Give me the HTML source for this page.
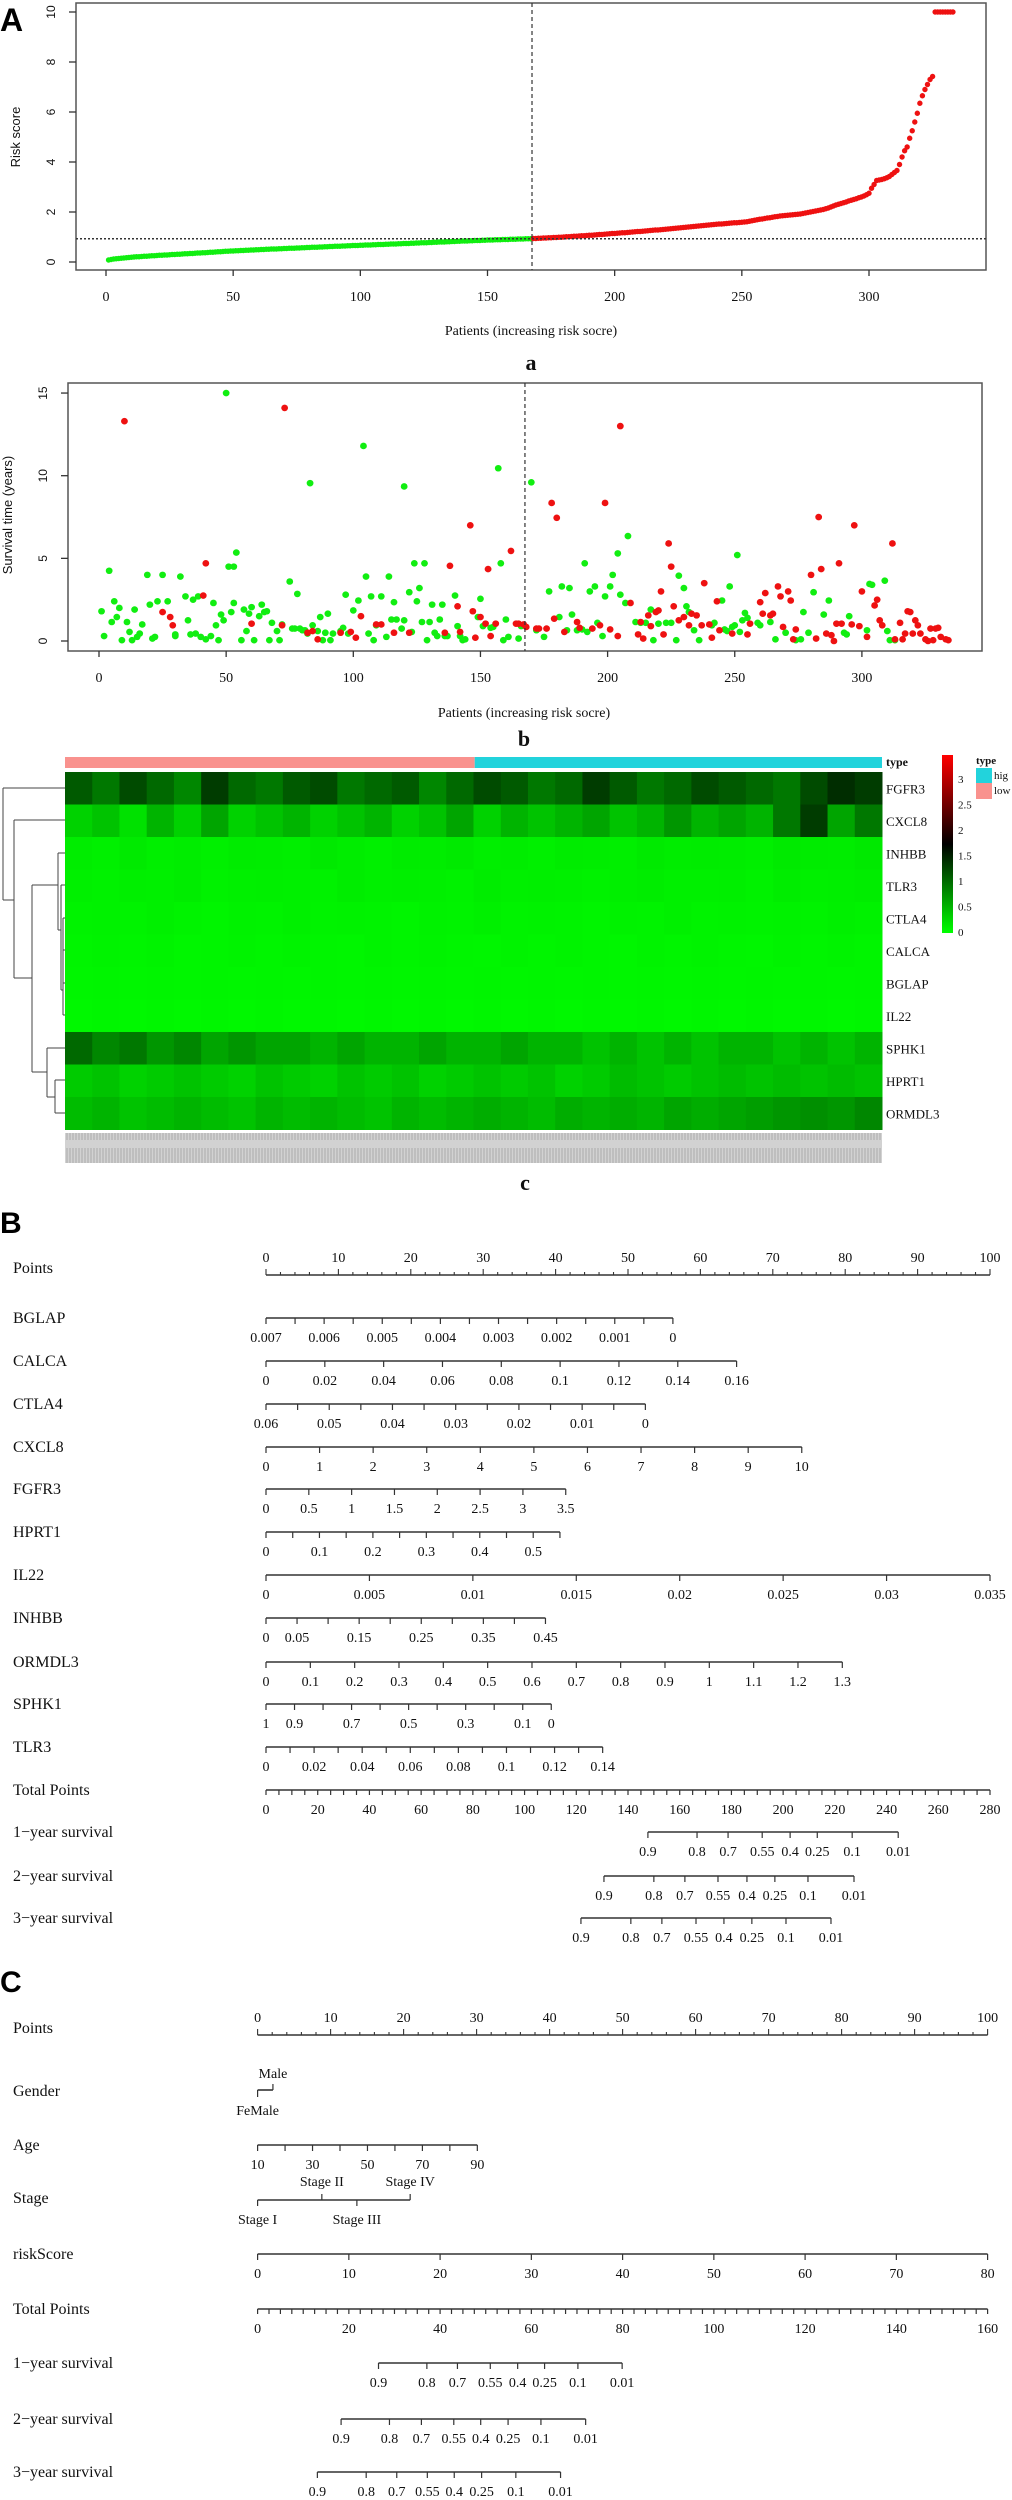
<!DOCTYPE html>
<html><head><meta charset="utf-8"><style>
html,body{margin:0;padding:0;background:#fff}
svg{display:block}
.s{font-family:"Liberation Serif",serif}
.ss{font-family:"Liberation Sans",sans-serif}
</style></head><body>
<svg id="fig" width="1012" height="2500" viewBox="0 0 1012 2500" xmlns="http://www.w3.org/2000/svg"></svg>
<script>
// ---------------- Panel a data: risk scores (sorted) ----------------
const riskScores = [
0.08,0.10,0.12,0.13,0.14,0.15,0.16,0.17,0.18,0.19,
0.20,0.21,0.21,0.22,0.23,0.23,0.24,0.25,0.25,0.26,
0.27,0.27,0.28,0.28,0.29,0.30,0.30,0.31,0.31,0.32,
0.33,0.33,0.34,0.34,0.35,0.36,0.36,0.37,0.37,0.38,
0.39,0.39,0.40,0.41,0.41,0.42,0.43,0.43,0.44,0.44,
0.45,0.45,0.46,0.46,0.47,0.47,0.48,0.48,0.49,0.49,
0.50,0.50,0.51,0.51,0.52,0.52,0.52,0.53,0.53,0.54,
0.54,0.55,0.55,0.55,0.56,0.56,0.57,0.57,0.58,0.58,
0.59,0.59,0.59,0.60,0.60,0.61,0.61,0.62,0.62,0.63,
0.63,0.63,0.64,0.64,0.65,0.65,0.66,0.66,0.66,0.67,
0.67,0.68,0.68,0.68,0.69,0.69,0.70,0.70,0.70,0.71,
0.71,0.72,0.72,0.72,0.73,0.73,0.74,0.74,0.74,0.75,
0.75,0.76,0.76,0.77,0.77,0.77,0.78,0.78,0.79,0.79,
0.80,0.80,0.80,0.81,0.81,0.82,0.82,0.83,0.83,0.84,
0.84,0.84,0.85,0.85,0.86,0.86,0.86,0.87,0.87,0.88,
0.88,0.88,0.89,0.89,0.89,0.90,0.90,0.90,0.91,0.91,
0.91,0.92,0.92,0.92,0.93,0.93,0.93,
0.94,0.94,0.95,
0.95,0.96,0.96,0.97,0.97,0.98,0.98,0.99,0.99,1.00,
1.01,1.01,1.02,1.03,1.03,1.04,1.05,1.05,1.06,1.07,
1.07,1.08,1.09,1.10,1.10,1.11,1.12,1.13,1.14,1.14,
1.15,1.16,1.17,1.17,1.18,1.19,1.20,1.21,1.22,1.22,
1.23,1.24,1.25,1.26,1.27,1.28,1.28,1.29,1.30,1.31,
1.32,1.33,1.34,1.35,1.36,1.37,1.38,1.39,1.40,1.41,
1.42,1.43,1.44,1.45,1.46,1.47,1.48,1.49,1.50,1.51,
1.52,1.52,1.53,1.54,1.55,1.56,1.57,1.57,1.58,1.59,
1.60,1.61,1.63,1.65,1.67,1.69,1.71,1.72,1.74,1.76,
1.77,1.79,1.81,1.82,1.84,1.85,1.86,1.87,1.88,1.89,
1.90,1.91,1.92,1.94,1.96,1.98,2.00,2.02,2.04,2.06,
2.08,2.10,2.13,2.16,2.20,2.24,2.28,2.31,2.34,2.37,
2.40,2.44,2.47,2.50,2.53,2.57,2.60,2.64,2.69,2.75,
2.95,3.10,3.26,3.28,3.30,3.33,3.37,3.42,3.50,3.58,
3.66,3.90,4.20,4.45,4.60,4.95,5.25,5.60,5.95,6.35,
6.65,6.90,7.10,7.30,7.42,
10,10,10,10,10,10,10,10];
const riskCutoff = 0.93;
const splitIndex = 167.5;
const aXTicks = [0,50,100,150,200,250,300];
const aYTicks = [0,2,4,6,8,10];

// ---------------- Panel b data: survival ----------------
const aliveIdx = [1,2,4,5,6,7,8,9,11,12,13,14,15,16,17,19,20,21,22,23,25,27,30,30,32,34,35,36,37,38,39,40,42,44,45,46,47,48,49,50,51,52,53,53,54,56,57,58,59,60,61,63,64,65,66,67,68,70,71,72,75,76,77,78,79,80,81,82,83,84,86,87,88,89,90,91,92,95,96,97,98,100,102,104,105,106,107,108,109,111,113,114,115,116,117,119,120,120,122,123,124,125,126,127,128,129,130,131,132,133,134,135,136,137,140,141,142,143,144,149,150,151,154,155,157,158,159,160,161,165,166,
170,172,175,177,181,182,184,185,186,188,190,191,192,193,195,196,198,199,201,202,204,205,207,208,211,213,215,217,218,220,223,225,227,228,230,231,232,234,236,241,242,245,246,247,248,249,250,251,252,253,254,255,259,260,264,266,270,274,276,277,279,281,285,287,293,294,295,302,303,304,309,310,311,313];
const aliveTime = [1.8,0.3,4.25,1.15,2.4,1.45,2.0,0.05,1.15,0.55,0.05,1.9,0.25,0.45,1.0,4.0,2.2,0.15,0.25,2.4,4.0,2.4,0.4,0.3,3.9,2.7,1.25,0.4,2.5,0.45,2.7,0.25,0.1,0.3,2.3,0.95,0.05,1.6,1.25,15.0,4.5,1.75,4.5,2.3,5.35,0.05,1.9,0.6,1.65,2.05,0.05,1.5,2.2,1.75,1.8,0.05,1.1,0.6,0.05,1.0,3.6,0.75,0.75,2.85,0.75,0.65,0.65,0.45,9.55,0.95,0.6,1.45,0.05,0.5,1.65,0.05,0.45,0.6,0.8,2.8,0.45,1.85,2.45,11.8,3.9,0.45,2.7,0.05,0.95,2.7,0.25,3.9,1.3,2.35,1.3,0.75,1.25,9.35,2.95,0.55,4.7,2.4,3.2,1.15,4.7,0.05,1.15,2.2,0.5,0.3,1.3,2.2,0.3,0.3,2.75,0.9,0.3,0.05,0.1,1.45,2.55,0.9,0.8,0.85,10.45,4.7,0.05,1.3,0.25,0.15,0.9,
9.6,0.65,0.25,3.0,1.45,3.3,0.65,3.2,1.6,0.65,0.7,4.7,0.55,3.0,3.3,1.1,0.3,2.7,3.3,4.0,5.3,2.8,2.3,6.35,1.15,1.1,1.1,1.9,0.05,1.05,1.1,1.1,0.05,3.95,3.2,2.1,1.75,0.65,0.05,0.95,1.1,2.45,0.7,0.6,3.3,0.85,0.95,5.2,0.55,1.25,1.7,1.4,1.1,0.95,1.15,0.1,0.5,0.05,0.1,1.75,0.5,2.95,1.6,2.45,0.5,0.4,1.5,0.65,3.45,3.4,3.65,0.6,0.05,0.05];
const deadIdx = [10,25,28,29,41,42,60,72,73,82,84,86,95,99,101,103,109,111,116,122,136,138,141,142,146,147,148,150,152,153,154,156,162,164,165,167,168,172,173,176,178,179,180,183,188,189,194,197,199,201,204,205,209,212,213,214,216,217,219,220,221,222,224,225,226,228,230,232,233,235,237,238,240,241,243,244,249,255,256,260,261,262,264,265,267,268,269,271,272,273,274,280,282,283,284,286,288,289,290,291,292,296,297,299,300,302,305,306,307,308,312,313,315,316,317,318,319,320,321,322,323,325,326,327,328,329,330,331,333,334];
const deadTime = [13.3,1.75,1.45,0.95,2.75,4.7,1.05,0.95,14.1,0.5,0.6,0.1,0.5,0.55,0.2,1.5,1.0,1.0,0.5,0.5,0.5,4.55,2.1,0.55,7.0,1.8,0.2,1.45,1.05,4.35,0.3,1.05,5.45,1.05,1.05,1.0,0.85,0.75,0.75,0.75,8.35,1.35,7.45,0.55,1.15,0.8,0.75,0.95,8.35,0.7,0.3,13.0,2.3,0.4,1.15,0.15,1.55,0.9,1.75,1.85,3.0,0.4,5.9,4.5,2.1,1.25,1.45,0.95,1.65,1.55,0.95,3.5,1.0,0.2,2.4,0.65,0.45,0.4,1.05,2.35,1.65,2.9,1.55,1.65,3.3,2.7,0.85,3.0,2.45,0.1,0.7,4.0,0.15,7.5,4.35,0.45,0.35,0.0,1.05,4.7,1.05,1.0,7.0,0.9,3.0,0.25,2.15,2.5,1.25,0.95,5.9,0.1,1.1,0.1,0.45,1.8,1.75,0.45,1.25,0.95,0.45,0.1,0.0,0.75,0.05,0.75,0.8,0.25,0.1,0.05];
const bXTicks = [0,50,100,150,200,250,300];
const bYTicks = [0,5,10,15];

// ---------------- Panel c data: heatmap ----------------
const genes = ["FGFR3","CXCL8","INHBB","TLR3","CTLA4","CALCA","BGLAP","IL22","SPHK1","HPRT1","ORMDL3"];
const expFGFR3 = [1.1,0.9,1.2,1.0,0.8,1.3,1.0,0.9,1.1,1.2,0.9,1.0,1.1,0.8,1.0,1.2,1.1,0.9,1.0,1.3,1.1,0.9,1.0,1.2,1.1,1.0,0.9,1.2,1.4,1.3];
const expCXCL8 = [0.3,0.4,0.2,0.5,0.3,0.6,0.3,0.4,0.5,0.3,0.4,0.5,0.3,0.4,0.6,0.3,0.5,0.4,0.5,0.6,0.4,0.5,0.7,0.5,0.6,0.5,0.9,1.3,0.6,0.9];
const expINHBB = [0.12,0.10,0.14,0.11,0.12,0.10,0.13,0.12,0.11,0.15,0.12,0.10,0.13,0.12,0.14,0.11,0.12,0.10,0.13,0.12,0.11,0.14,0.12,0.13,0.12,0.11,0.14,0.13,0.12,0.15];
const expTLR3 = [0.10,0.09,0.11,0.10,0.12,0.09,0.10,0.11,0.10,0.09,0.12,0.10,0.11,0.10,0.09,0.12,0.10,0.11,0.10,0.09,0.11,0.12,0.10,0.10,0.11,0.09,0.12,0.10,0.11,0.12];
const expCTLA4 = [0.08,0.09,0.08,0.10,0.08,0.07,0.09,0.08,0.10,0.08,0.09,0.08,0.07,0.09,0.08,0.10,0.08,0.09,0.08,0.07,0.09,0.08,0.10,0.08,0.09,0.08,0.09,0.08,0.10,0.09];
const expCALCA = [0.07,0.08,0.07,0.08,0.06,0.07,0.08,0.07,0.08,0.07,0.06,0.08,0.07,0.08,0.07,0.06,0.08,0.07,0.08,0.07,0.06,0.08,0.07,0.08,0.07,0.06,0.08,0.07,0.08,0.07];
const expBGLAP = [0.06,0.07,0.06,0.07,0.06,0.07,0.06,0.07,0.06,0.07,0.06,0.07,0.06,0.07,0.06,0.07,0.06,0.07,0.06,0.07,0.06,0.07,0.06,0.07,0.06,0.07,0.06,0.07,0.06,0.07];
const expIL22 = [0.05,0.06,0.05,0.06,0.05,0.06,0.05,0.06,0.05,0.06,0.05,0.06,0.05,0.06,0.05,0.06,0.05,0.06,0.05,0.06,0.05,0.06,0.05,0.06,0.05,0.06,0.05,0.06,0.05,0.06];
const expSPHK1 = [1.0,0.8,0.9,0.7,0.8,0.6,0.7,0.6,0.6,0.5,0.6,0.5,0.5,0.6,0.5,0.5,0.6,0.5,0.5,0.4,0.5,0.4,0.5,0.4,0.5,0.5,0.4,0.5,0.4,0.5];
const expHPRT1 = [0.35,0.4,0.3,0.35,0.4,0.35,0.3,0.4,0.35,0.3,0.4,0.35,0.4,0.3,0.35,0.4,0.35,0.4,0.3,0.35,0.45,0.4,0.35,0.4,0.45,0.4,0.45,0.4,0.45,0.4];
const expORMDL3 = [0.45,0.5,0.4,0.45,0.5,0.45,0.4,0.5,0.45,0.5,0.45,0.4,0.5,0.45,0.5,0.55,0.5,0.45,0.55,0.5,0.55,0.5,0.6,0.55,0.6,0.65,0.7,0.75,0.7,0.8];
const typeGroups = ["low","high"];
const typeCounts = [167,166];
const colorTicks = [0,0.5,1,1.5,2,2.5,3];

// ---------------- Nomogram B data ----------------
const nbNames = ["BGLAP","CALCA","CTLA4","CXCL8","FGFR3","HPRT1","IL22","INHBB","ORMDL3","SPHK1","TLR3"];
const nbStart = [0.007,0,0.06,0,0,0,0,0,0,1,0];
const nbEnd = [0,0.16,0,10,3.5,0.55,0.035,0.45,1.3,0,0.14];
const nbMaxPts = [56.2,65.0,52.4,74.0,41.4,40.6,100,38.6,79.6,39.4,46.5];
const nbStep = [0.0005,0.02,0.005,1,0.5,0.05,0.005,0.05,0.1,0.1,0.01];
const nbLabels = [
 ["0.007","0.006","0.005","0.004","0.003","0.002","0.001","0"],
 ["0","0.02","0.04","0.06","0.08","0.1","0.12","0.14","0.16"],
 ["0.06","0.05","0.04","0.03","0.02","0.01","0"],
 ["0","1","2","3","4","5","6","7","8","9","10"],
 ["0","0.5","1","1.5","2","2.5","3","3.5"],
 ["0","0.1","0.2","0.3","0.4","0.5"],
 ["0","0.005","0.01","0.015","0.02","0.025","0.03","0.035"],
 ["0","0.05","0.15","0.25","0.35","0.45"],
 ["0","0.1","0.2","0.3","0.4","0.5","0.6","0.7","0.8","0.9","1","1.1","1.2","1.3"],
 ["1","0.9","0.7","0.5","0.3","0.1","0"],
 ["0","0.02","0.04","0.06","0.08","0.1","0.12","0.14"]];
const nbTotalMax = 280;
const survLabels = ["0.9","0.8","0.7","0.55","0.4","0.25","0.1","0.01"];
const nbSurv1 = [147.7,166.7,178.7,191.9,202.7,213.2,226.7,244.5];
const nbSurv2 = [130.7,150.0,162.0,174.8,186.0,196.8,209.6,227.4];
const nbSurv3 = [121.8,141.1,153.1,166.3,177.1,187.9,201.1,218.5];

// ---------------- Nomogram C data ----------------
const ncGenderPts = [0,2.1];
const ncAgeRange = [10,90]; const ncAgeMaxPts = 30.1;
const ncStageNames = ["Stage I","Stage II","Stage III","Stage IV"];
const ncStagePts = [0,8.8,13.6,20.9];
const ncRiskRange = [0,80];
const ncTotalMax = 160;
const ncSurv1 = [26.5,37.1,43.8,51.0,57.0,62.9,70.2,79.9];
const ncSurv2 = [18.3,28.9,35.9,43.0,48.9,54.9,62.1,71.9];
const ncSurv3 = [13.1,23.8,30.5,37.2,43.1,49.1,56.6,66.4];

// ================= drawing =================
const NS = "http://www.w3.org/2000/svg";
const svg = document.getElementById("fig");
function mk(tag, attrs, parent) {
  const e = document.createElementNS(NS, tag);
  for (const k in attrs) e.setAttribute(k, attrs[k]);
  (parent || svg).appendChild(e);
  return e;
}
function group(name) {
  const g = mk("g", {});
  
  
  return g;
}
function txt(s, x, y, cls, size, anchor, parent, name, extra) {
  const a = Object.assign({x: x, y: y, "class": cls, "font-size": size, "text-anchor": anchor || "middle", fill: "#111"}, extra || {});
  const e = mk("text", a, parent);
  e.textContent = s;
  
  
  return e;
}
function line(x1, y1, x2, y2, parent, name, stroke, w, dash) {
  const a = {x1: x1, y1: y1, x2: x2, y2: y2, stroke: stroke || "#333", "stroke-width": w || 1.3};
  if (dash) a["stroke-dasharray"] = dash;
  const e = mk("line", a, parent);
  
  
  return e;
}

txt("A", 0, 31, "ss", 32, "start", svg, "panel-label-a", {"font-weight": "bold", fill: "#000"});
txt("B", 0, 1233, "ss", 30, "start", svg, "panel-label-b", {"font-weight": "bold", fill: "#000"});
txt("C", 0, 1992, "ss", 30, "start", svg, "panel-label-c", {"font-weight": "bold", fill: "#000"});

// ---- Panel a ----
(function () {
  const g = group("risk-score-plot");
  const xA = i => 106 + i * (869 - 106) / 300;
  const yA = v => 262 - v * 25;
  const box = mk("rect", {x: 76, y: 3, width: 910, height: 267, fill: "none", stroke: "#555", "stroke-width": 1.5}, g);
  
  
  aXTicks.forEach(t => {
    line(xA(t), 270, xA(t), 276, g, "x-tick");
    txt(String(t), xA(t), 301, "s", 14, "middle", g, "x-tick-label");
  });
  aYTicks.forEach(t => {
    line(76, yA(t), 69, yA(t), g, "y-tick");
    txt(String(t), 55, yA(t), "ss", 12, "middle", g, "y-tick-label", {transform: "rotate(-90 55 " + yA(t) + ")"});
  });
  txt("Risk score", 20, 137, "ss", 13, "middle", g, "y-axis-title", {transform: "rotate(-90 20 137)"});
  txt("Patients (increasing risk socre)", 531, 335, "s", 14, "middle", g, "x-axis-title");
  txt("a", 531, 370, "s", 22, "middle", g, "subpanel-label-a", {"font-weight": "bold"});
  riskScores.forEach((v, k) => {
    const i = k + 1;
    const c = mk("circle", {cx: xA(i), cy: yA(v), r: 2.7, fill: i <= splitIndex ? "#11ee11" : "#ee1111"}, g);
    
    
  });
  line(xA(splitIndex), 3, xA(splitIndex), 270, g, "cutoff-vertical-line", "#333", 1.2, "4,3");
  line(76, yA(riskCutoff), 986, yA(riskCutoff), g, "cutoff-horizontal-line", "#333", 1.5, "2,2");
})();

// ---- Panel b ----
(function () {
  const g = group("survival-plot");
  const xB = i => 99 + i * 2.543;
  const yB = t => 641 - t * 16.53;
  const box = mk("rect", {x: 68, y: 383, width: 914, height: 268, fill: "none", stroke: "#555", "stroke-width": 1.5}, g);
  
  
  bXTicks.forEach(t => {
    line(xB(t), 651, xB(t), 657, g, "x-tick");
    txt(String(t), xB(t), 682, "s", 14, "middle", g, "x-tick-label");
  });
  bYTicks.forEach(t => {
    line(68, yB(t), 61, yB(t), g, "y-tick");
    txt(String(t), 47, yB(t), "ss", 12, "middle", g, "y-tick-label", {transform: "rotate(-90 47 " + yB(t) + ")"});
  });
  txt("Survival time (years)", 12, 515, "ss", 13, "middle", g, "y-axis-title", {transform: "rotate(-90 12 515)"});
  txt("Patients (increasing risk socre)", 524, 717, "s", 14, "middle", g, "x-axis-title");
  txt("b", 524, 746, "s", 22, "middle", g, "subpanel-label-b", {"font-weight": "bold"});
  aliveIdx.forEach((i, k) => {
    const c = mk("ellipse", {cx: xB(i), cy: yB(aliveTime[k]), rx: 3.4, ry: 3.3, fill: "#11ee11"}, g);
    
    
  });
  deadIdx.forEach((i, k) => {
    const c = mk("ellipse", {cx: xB(i), cy: yB(deadTime[k]), rx: 3.4, ry: 3.3, fill: "#ee1111"}, g);
    
    
  });
  line(xB(splitIndex), 383, xB(splitIndex), 651, g, "cutoff-vertical-line", "#333", 1.2, "4,3");
})();

// ---- Panel c heatmap ----
(function () {
  const g = group("expression-heatmap");
  const exprRows = [expFGFR3, expCXCL8, expINHBB, expTLR3, expCTLA4, expCALCA, expBGLAP, expIL22, expSPHK1, expHPRT1, expORMDL3];
  const X0 = 65, X1 = 882, Y0 = 772, RH = 32.5;
  function col(v) {
    if (v <= 1.7) { const gr = Math.round(255 * (1 - v / 1.7)); return "rgb(0," + gr + ",0)"; }
    const r = Math.round(255 * Math.min(1, (v - 1.7) / 1.5)); return "rgb(" + r + ",0,0)";
  }
  const tot = typeCounts.reduce((a, b) => a + b, 0);
  let xs = X0;
  typeCounts.forEach((n, k) => {
    const w = (X1 - X0) * n / tot;
    const r = mk("rect", {x: xs, y: 757, width: w, height: 11, fill: typeGroups[k] === "low" ? "#f9928e" : "#22d3dc"}, g);
    
    
    xs += w;
  });
  txt("type", 886, 766, "s", 12, "start", g, "type-row-label", {"font-weight": "bold"});
  exprRows.forEach((row, ri) => {
    const cw = (X1 - X0) / row.length;
    row.forEach((v, ci) => {
      const r = mk("rect", {x: X0 + ci * cw, y: Y0 + ri * RH, width: cw + 0.5, height: RH + 0.5, fill: col(v)}, g);
      
      
    });
    txt(genes[ri], 886, Y0 + ri * RH + RH / 2 + 5, "s", 13, "start", g, "gene-label");
  });
  const cb = mk("defs", {}, g);
  const lg = mk("linearGradient", {id: "cbg", x1: 0, y1: 1, x2: 0, y2: 0}, cb);
  [[0, "#00ff00"], [0.5, "#000"], [1, "#ff0000"]].forEach(s => mk("stop", {offset: s[0], "stop-color": s[1]}, lg));
  const pat = mk("pattern", {id: "lblpat", width: 3, height: 30, patternUnits: "userSpaceOnUse"}, cb);
  mk("rect", {x: 0, y: 0, width: 3, height: 30, fill: "#d2d2d2"}, pat);
  mk("line", {x1: 1, y1: 8, x2: 1, y2: 30, stroke: "#a9a9a9", "stroke-width": 1}, pat);
  const cbr = mk("rect", {x: 942, y: 755, width: 11, height: 178, fill: "url(#cbg)"}, g);
  
  
  colorTicks.forEach(t => {
    txt(String(t), 958, 932 - t * 51 + 4, "s", 11, "start", g, "color-scale-tick");
  });
  txt("type", 976, 764, "s", 11, "start", g, "legend-title", {"font-weight": "bold"});
  const lh = mk("rect", {x: 976, y: 768, width: 16, height: 15, fill: "#22d3dc"}, g);
  
  
  const ll = mk("rect", {x: 976, y: 783, width: 16, height: 16, fill: "#f9928e"}, g);
  
  
  txt("hig", 994, 779, "s", 11, "start", g, "legend-entry-high");
  txt("low", 994, 794, "s", 11, "start", g, "legend-entry-low");
  const d = [[3,788,3,900],[3,788,65,788],[3,900,14,900],[14,820,14,978],[14,820,65,820],[14,978,32,978],
    [32,885,32,1072],[32,885,58,885],[58,853,58,930],[58,853,65,853],[58,930,61,930],[61,885,61,990],[61,885,65,885],
    [61,990,63,990],[63,918,63,1015],[63,918,65,918],[63,950,65,950],[63,983,65,983],[63,1015,65,1015],
    [32,1072,47,1072],[47,1048,47,1097],[47,1048,65,1048],[47,1097,55,1097],[55,1080,55,1113],[55,1080,65,1080],[55,1113,65,1113]];
  d.forEach(s => line(s[0], s[1], s[2], s[3], g, "dendrogram-branch", "#444", 1));
  const lbl = mk("rect", {x: 65, y: 1133, width: 817, height: 30, fill: "url(#lblpat)"}, g);
  
  
  txt("c", 525, 1190, "s", 22, "middle", g, "subpanel-label-c", {"font-weight": "bold"});
})();

function axisRow(g, y, px0, ppp, tickPts, labelPts, labels, tickLen, rowName) {
  const xs = tickPts.map(p => px0 + p * ppp);
  line(Math.min(...xs), y, Math.max(...xs), y, g, rowName + "-axis-line", "#333", 1.6);
  tickPts.forEach(p => line(px0 + p * ppp, y, px0 + p * ppp, y + tickLen, g, rowName + "-tick", "#333", 1.2));
  labelPts.forEach((p, k) => txt(labels[k], px0 + p * ppp, y + 24, "s", 14, "middle", g, rowName + "-tick-label"));
}
function pointsRow(g, y, px0, ppp) {
  txt("Points", 13, y - 2, "s", 16, "start", g, "points-row-label");
  line(px0, y, px0 + 100 * ppp, y, g, "points-axis-line", "#333", 1.6);
  for (let p = 0; p <= 100; p += 2) line(px0 + p * ppp, y, px0 + p * ppp, y - (p % 10 === 0 ? 6 : 3), g, "points-tick", "#333", 1.1);
  for (let p = 0; p <= 100; p += 10) txt(String(p), px0 + p * ppp, y - 13, "s", 14, "middle", g, "points-tick-label");
}

// ---- Nomogram B ----
(function () {
  const g = group("nomogram-genes");
  const px0 = 266, ppp = 7.24;
  pointsRow(g, 1275, px0, ppp);
  const rowY = [1318,1361,1404,1447,1489,1532,1575,1618,1662,1704,1747];
  nbNames.forEach((nm, k) => {
    txt(nm, 13, rowY[k] + 5, "s", 16, "start", g, "variable-label");
    const s0 = nbStart[k], s1 = nbEnd[k], mp = nbMaxPts[k];
    const vp = v => (v - s0) / (s1 - s0) * mp;
    const n = Math.round(Math.abs(s1 - s0) / nbStep[k]);
    const tp = [];
    for (let j = 0; j <= n; j++) tp.push(j * mp / n);
    const lp = nbLabels[k].map(l => vp(parseFloat(l)));
    axisRow(g, rowY[k], px0, ppp, tp, lp, nbLabels[k], 6, nm.toLowerCase());
  });
  txt("Total Points", 13, 1795, "s", 16, "start", g, "total-points-label");
  const tt = [], tl = [], tls = [];
  for (let v = 0; v <= nbTotalMax; v += 5) tt.push(v / nbTotalMax * 100);
  for (let v = 0; v <= nbTotalMax; v += 20) { tl.push(v / nbTotalMax * 100); tls.push(String(v)); }
  axisRow(g, 1790, px0, ppp, tt, tl, tls, 5, "total-points");
  [[nbSurv1, 1832, "1\u2212year survival"], [nbSurv2, 1876, "2\u2212year survival"], [nbSurv3, 1918, "3\u2212year survival"]].forEach((r, k) => {
    txt(r[2], 13, r[1] + 5, "s", 16, "start", g, "survival-row-label");
    const pp = r[0].map(v => v / nbTotalMax * 100);
    axisRow(g, r[1], px0, ppp, pp, pp, survLabels, 6, "survival-" + (k + 1) + "yr");
  });
})();

// ---- Nomogram C ----
(function () {
  const g = group("nomogram-clinical");
  const px0 = 257.6, ppp = 7.3;
  pointsRow(g, 2035, px0, ppp);
  txt("Gender", 13, 2096, "s", 16, "start", g, "variable-label");
  const gf = px0 + ncGenderPts[0] * ppp, gm = px0 + ncGenderPts[1] * ppp;
  line(gf, 2090, gm, 2090, g, "gender-axis-line", "#333", 1.6);
  line(gf, 2090, gf, 2097, g, "gender-tick", "#333", 1.2);
  line(gm, 2090, gm, 2084, g, "gender-tick", "#333", 1.2);
  txt("Male", gm, 2078, "s", 14, "middle", g, "gender-label-male");
  txt("FeMale", gf, 2115, "s", 14, "middle", g, "gender-label-female");
  txt("Age", 13, 2150, "s", 16, "start", g, "variable-label");
  const at = [], al = [], als = [];
  for (let v = ncAgeRange[0]; v <= ncAgeRange[1]; v += 10) at.push((v - ncAgeRange[0]) / (ncAgeRange[1] - ncAgeRange[0]) * ncAgeMaxPts);
  for (let v = ncAgeRange[0]; v <= ncAgeRange[1]; v += 20) { al.push((v - ncAgeRange[0]) / (ncAgeRange[1] - ncAgeRange[0]) * ncAgeMaxPts); als.push(String(v)); }
  axisRow(g, 2145, px0, ppp, at, al, als, 6, "age");
  txt("Stage", 13, 2203, "s", 16, "start", g, "variable-label");
  const sx = ncStagePts.map(p => px0 + p * ppp);
  line(Math.min(...sx), 2200, Math.max(...sx), 2200, g, "stage-axis-line", "#333", 1.6);
  ncStagePts.forEach((p, k) => {
    const up = k % 2 === 1;
    line(sx[k], 2200, sx[k], up ? 2194 : 2206, g, "stage-tick", "#333", 1.2);
    txt(ncStageNames[k], sx[k], up ? 2186 : 2224, "s", 14, "middle", g, "stage-label");
  });
  txt("riskScore", 13, 2259, "s", 16, "start", g, "variable-label");
  const rt = [], rl = [];
  for (let v = ncRiskRange[0]; v <= ncRiskRange[1]; v += 10) { rt.push(v / ncRiskRange[1] * 100); rl.push(String(v)); }
  axisRow(g, 2254, px0, ppp, rt, rt, rl, 6, "riskscore");
  txt("Total Points", 13, 2314, "s", 16, "start", g, "total-points-label");
  const tt = [], tl = [], tls = [];
  for (let v = 0; v <= ncTotalMax; v += 2.5) tt.push(v / ncTotalMax * 100);
  for (let v = 0; v <= ncTotalMax; v += 20) { tl.push(v / ncTotalMax * 100); tls.push(String(v)); }
  axisRow(g, 2309, px0, ppp, tt, tl, tls, 5, "total-points");
  [[ncSurv1, 2363, "1\u2212year survival"], [ncSurv2, 2419, "2\u2212year survival"], [ncSurv3, 2472, "3\u2212year survival"]].forEach((r, k) => {
    txt(r[2], 13, r[1] + 5, "s", 16, "start", g, "survival-row-label");
    const pp = r[0].map(v => v / ncTotalMax * 100);
    axisRow(g, r[1], px0, ppp, pp, pp, survLabels, 6, "survival-" + (k + 1) + "yr");
  });
})();
</script>
</body></html>
